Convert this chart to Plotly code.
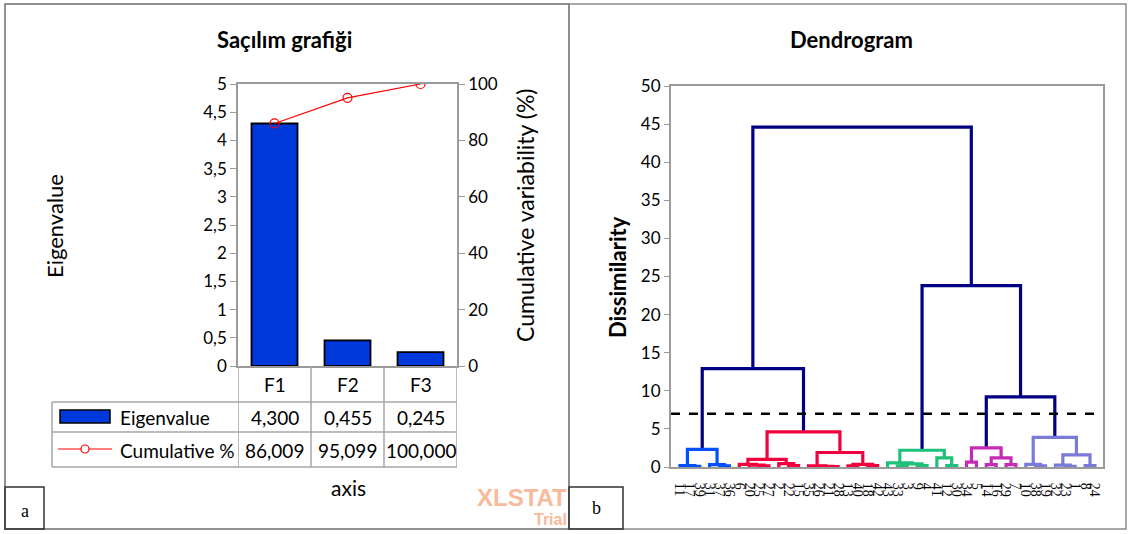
import plotly.graph_objects as go

W, H = 1129, 534


def px(x):
    return x / W


def py(y):
    return 1 - y / H


# ---------------- Scree plot data ----------------
factors = ["F1", "F2", "F3"]
eigenvalues = [4.300, 0.455, 0.245]
cumulative_pct = [86.009, 95.099, 100.000]

# ---------------- Dendrogram data ----------------
leaf_labels = [11, 17, 39, 31, 37, 36,
               6, 20, 25, 27, 2, 22, 15, 35, 26, 21, 28, 13, 40, 18, 42,
               43, 33, 3, 9, 4, 41, 12, 30,
               34, 5, 14, 16, 29, 7,
               10, 38, 19, 32, 23, 1, 8, 24]
# linkage (scipy style): leaves 0..42, merged node k gets id 43+k
merge_a = [1, 0, 4, 3, 44,
           8, 7, 6, 11, 10, 50, 15, 14, 13, 17, 19, 57, 56, 53, 47,
           22, 24, 63, 21, 27, 26, 66,
           29, 31, 33, 71, 70,
           36, 35, 39, 38, 41, 78, 76, 74, 69, 62]
merge_b = [2, 43, 5, 45, 46,
           9, 48, 49, 12, 51, 52, 16, 54, 55, 18, 20, 58, 59, 60, 61,
           23, 25, 64, 65, 28, 67, 68,
           30, 32, 34, 72, 73,
           37, 75, 40, 77, 42, 79, 80, 81, 82, 83]
merge_h = [0.10, 0.20, 0.15, 0.30, 2.3,
           0.15, 0.25, 0.35, 0.20, 0.45, 1.0, 0.05, 0.10, 0.15, 0.15, 0.20, 0.35, 1.9, 4.6, 12.9,
           0.15, 0.20, 0.40, 0.55, 0.20, 1.2, 2.2,
           0.65, 0.30, 0.30, 1.2, 2.5,
           0.15, 0.35, 0.10, 0.25, 0.20, 1.6, 3.9, 9.2, 23.8, 44.6]
cut_level = 7.0
cluster_colors = ["#0050FF", "#F0003C", "#1EC07A", "#C42CB4", "#7A7AD8"]
top_color = "#000080"

# ---------------- Dendrogram geometry ----------------
n = len(leaf_labels)
xpos = [float(i) for i in range(n)]
hpos = [0.0] * n
for a, b, h in zip(merge_a, merge_b, merge_h):
    xpos.append((xpos[a] + xpos[b]) / 2)
    hpos.append(h)

node_cluster = {}
counter = [0]


def assign(node, cid):
    if cid is None and hpos[node] < cut_level:
        cid = counter[0]
        counter[0] += 1
    node_cluster[node] = cid
    if node >= n:
        k = node - n
        assign(merge_a[k], cid)
        assign(merge_b[k], cid)


assign(len(xpos) - 1, None)

segs = {}
for k, (a, b, h) in enumerate(zip(merge_a, merge_b, merge_h)):
    node = n + k
    cid = node_cluster[node]
    col = cluster_colors[cid % len(cluster_colors)] if cid is not None else top_color
    xs, ys = segs.setdefault(col, ([], []))
    xs += [xpos[a], xpos[a], xpos[b], xpos[b], None]
    ys += [hpos[a], h, h, hpos[b], None]

fig = go.Figure()

# ---------------- Scree traces ----------------
fig.add_trace(go.Bar(x=factors, y=eigenvalues, xaxis="x", yaxis="y",
                     marker=dict(color="#0039DB", line=dict(color="black", width=1.8)),
                     showlegend=False))
fig.add_trace(go.Scatter(x=factors, y=cumulative_pct, xaxis="x", yaxis="y3",
                         mode="lines+markers",
                         line=dict(color="#FF0000", width=1.2),
                         marker=dict(symbol="circle-open", size=9, color="#FF0000",
                                     line=dict(width=1.2)),
                         showlegend=False))

# ---------------- Dendrogram traces ----------------
order = [top_color] + cluster_colors
for col in order:
    if col in segs:
        xs, ys = segs[col]
        fig.add_trace(go.Scatter(x=xs, y=ys, xaxis="x2", yaxis="y2", mode="lines",
                                 line=dict(color=col, width=3.2), showlegend=False,
                                 hoverinfo="skip"))

FONT = "Lato, 'Open Sans', sans-serif"
GRAY = "#9A9A9A"
TICK = 17

# geometry (pixels)
L_x0, L_x1, L_ytop, L_ybot = 238, 457, 84, 366
R_x0, R_x1, R_ytop, R_ybot = 671, 1103, 86, 467
spacing = 9.88
first_leaf_px = 680
r_lo = (R_x0 - first_leaf_px) / spacing
r_hi = (R_x1 - first_leaf_px) / spacing

fig.update_layout(
    width=W, height=H, margin=dict(l=0, r=0, t=0, b=0, autoexpand=False),
    paper_bgcolor="white", plot_bgcolor="white",
    separators=",.",
    font=dict(family=FONT, size=15, color="black"),
    bargap=0.37,
    xaxis=dict(domain=[px(L_x0), px(L_x1)], anchor="y", range=[-0.5, 2.5],
               showticklabels=False, ticks="", showline=True, linecolor=GRAY,
               linewidth=1.5, mirror=True, showgrid=False, zeroline=False,
               automargin=False),
    yaxis=dict(domain=[py(L_ybot), py(L_ytop)], anchor="x", range=[0, 5], dtick=0.5,
               ticks="outside", ticklen=6, tickcolor=GRAY, showline=True, linecolor=GRAY,
               linewidth=1.5, showgrid=False, zeroline=False, tickfont=dict(size=TICK),
               automargin=False),
    yaxis3=dict(overlaying="y", side="right", anchor="x", range=[0, 100], dtick=20,
                ticks="outside", ticklen=6, tickcolor=GRAY, showline=True, linecolor=GRAY,
                linewidth=1.5, showgrid=False, zeroline=False, tickfont=dict(size=TICK),
                automargin=False),
    xaxis2=dict(domain=[px(R_x0), px(R_x1)], anchor="y2", range=[r_lo, r_hi],
                tickmode="array", tickvals=list(range(n)),
                ticktext=[str(v) for v in leaf_labels], tickangle=90,
                tickfont=dict(family="'Liberation Serif', serif", size=14),
                ticklabelstandoff=11,
                ticks="", showline=True, linecolor=GRAY, linewidth=2, mirror=True,
                showgrid=False, zeroline=False, automargin=False),
    yaxis2=dict(domain=[py(R_ybot), py(R_ytop)], anchor="x2", range=[0, 50], dtick=5,
                ticks="outside", ticklen=5, tickcolor=GRAY, showline=True, linecolor=GRAY,
                linewidth=2, mirror=True, showgrid=False, zeroline=False,
                tickfont=dict(size=TICK), automargin=False),
)

shapes = []
# panel frames
shapes.append(dict(type="rect", xref="paper", yref="paper", x0=px(5), x1=px(569),
                   y0=py(529), y1=py(4), line=dict(color="#6E6E6E", width=1.5)))
shapes.append(dict(type="rect", xref="paper", yref="paper", x0=px(569), x1=px(1126),
                   y0=py(529), y1=py(4), line=dict(color="#8C8C8C", width=1.5)))
# label boxes a / b
shapes.append(dict(type="rect", xref="paper", yref="paper", x0=px(5), x1=px(44),
                   y0=py(529), y1=py(487), line=dict(color="#333333", width=1.5)))
shapes.append(dict(type="rect", xref="paper", yref="paper", x0=px(569), x1=px(623),
                   y0=py(529), y1=py(487), line=dict(color="#333333", width=1.5)))
# data table lines under the scree plot
TBL = "#A6A6A6"
for xb in [-0.5, 0.5, 1.5, 2.5]:
    shapes.append(dict(type="line", xref="x", yref="paper", x0=xb, x1=xb,
                       y0=py(L_ybot), y1=py(467), line=dict(color=TBL, width=1.5)))
for yy in [402, 432, 467]:
    shapes.append(dict(type="line", xref="paper", yref="paper", x0=px(52), x1=px(L_x1),
                       y0=py(yy), y1=py(yy), line=dict(color=TBL, width=1.5)))
shapes.append(dict(type="line", xref="paper", yref="paper", x0=px(52), x1=px(52),
                   y0=py(402), y1=py(467), line=dict(color=TBL, width=1.5)))
# legend swatches inside the table
shapes.append(dict(type="rect", xref="paper", yref="paper", x0=px(60), x1=px(110),
                   y0=py(423), y1=py(410), fillcolor="#0039DB",
                   line=dict(color="black", width=1.5)))
shapes.append(dict(type="line", xref="paper", yref="paper", x0=px(58), x1=px(112),
                   y0=py(449), y1=py(449), line=dict(color="#FF0000", width=1.2)))
shapes.append(dict(type="circle", xref="paper", yref="paper", x0=px(81), x1=px(89),
                   y0=py(453), y1=py(445), fillcolor="white",
                   line=dict(color="#FF0000", width=1.2)))
# truncation line of the dendrogram
shapes.append(dict(type="line", xref="x2 domain", yref="y2", x0=0, x1=1,
                   y0=cut_level, y1=cut_level,
                   line=dict(color="black", width=2.5, dash="dash")))
fig.update_layout(shapes=shapes)

ann = []


def note(text, x, y, xref="paper", size=19, **kw):
    d = dict(text=text, x=x, y=y, xref=xref, yref="paper", showarrow=False,
             xanchor="center", yanchor="middle", font=dict(size=size))
    d.update(kw)
    ann.append(d)


note("<b>Saçılım grafiği</b>", px(284), py(40), size=22)
note("<b>Dendrogram</b>", px(851), py(40), size=22)
note("Eigenvalue", px(55), py(226), size=22, textangle=-90)
note("Cumulative variability (%)", px(525), py(215), size=23, textangle=-90)
note("<b>Dissimilarity</b>", px(617), py(277), size=22, textangle=-90)
note("axis", px(348), py(487), size=21)
for f, ev, cp in zip(factors, eigenvalues, cumulative_pct):
    note(f, f, py(384), xref="x")
    note(f"{ev:.3f}".replace(".", ","), f, py(417), xref="x")
    note(f"{cp:.3f}".replace(".", ","), f, py(450), xref="x")
note("Eigenvalue", px(118), py(417), xanchor="left")
note("Cumulative %", px(118), py(450), xanchor="left")
serif = "'Liberation Serif', serif"
note("a", px(25), py(511))
ann[-1]["font"] = dict(family=serif, size=18)
note("b", px(596), py(508))
ann[-1]["font"] = dict(family=serif, size=18)
wm = "'Liberation Sans', Arial, sans-serif"
note("<b>XLSTAT</b>", px(569), py(498), xanchor="right")
ann[-1]["font"] = dict(family=wm, size=24, color="#F8B99C")
note("<b>Trial</b>", px(569), py(519), xanchor="right")
ann[-1]["font"] = dict(family=wm, size=16, color="#F8B99C")
fig.update_layout(annotations=ann)

fig.write_html("out.html")
